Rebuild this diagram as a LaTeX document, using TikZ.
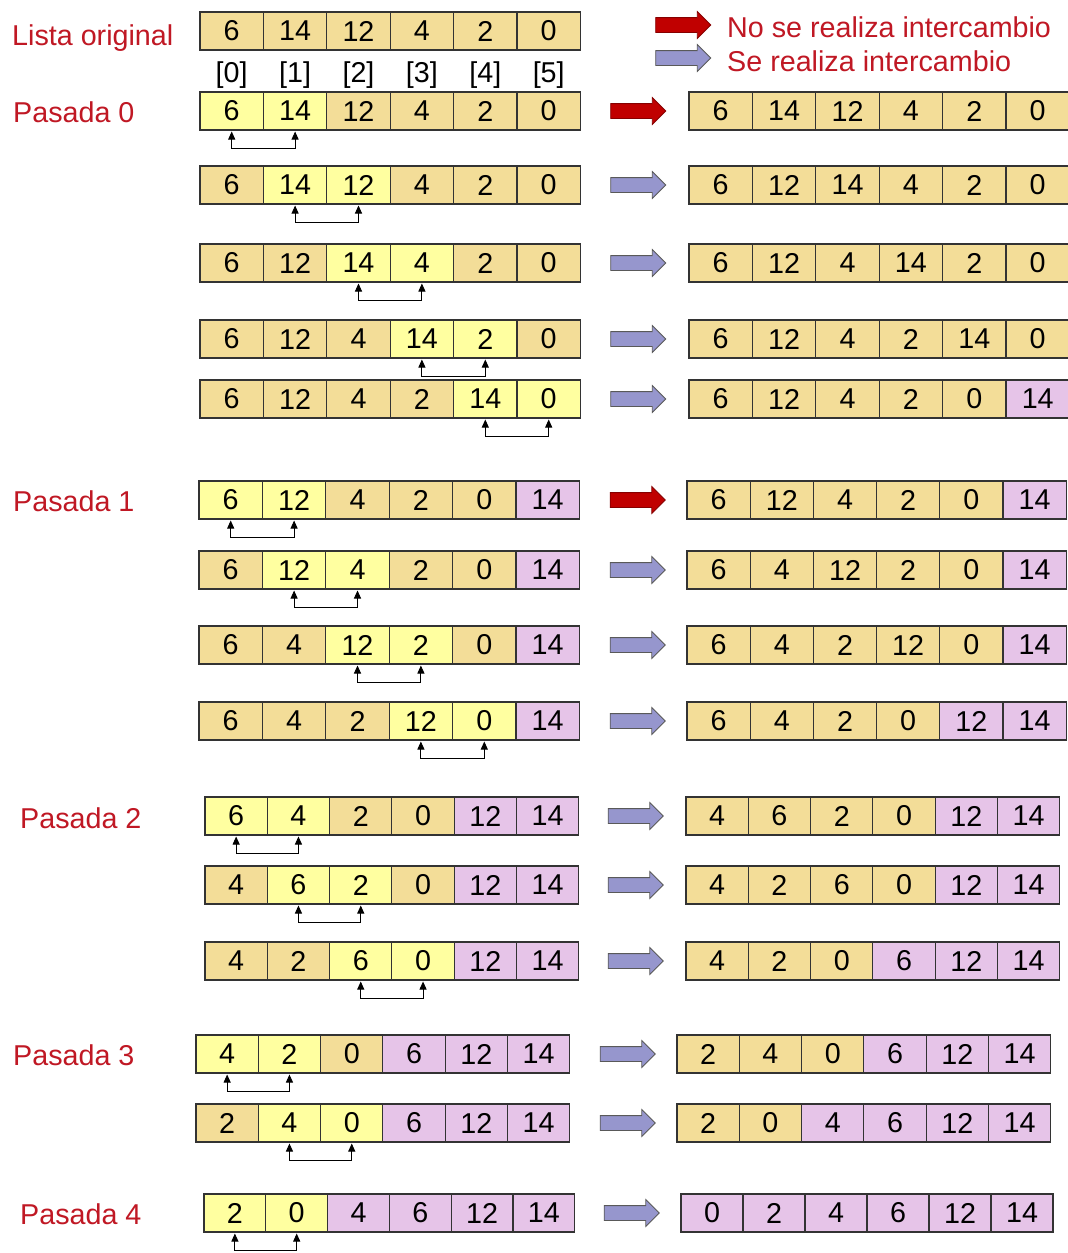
\documentclass[tikz,border=0pt]{standalone}
\usepackage{fontspec}
\setmainfont{Liberation Sans}
\usetikzlibrary{arrows.meta,shapes.arrows}
\definecolor{tn}{RGB}{243,221,152}
\definecolor{yl}{RGB}{255,255,160}
\definecolor{pk}{RGB}{230,196,232}
\definecolor{lblred}{RGB}{192,24,36}
\definecolor{arrred}{RGB}{192,0,0}
\definecolor{arrblue}{RGB}{150,150,205}
\newcommand\bigfont{\fontsize{28.7}{32}\selectfont}
\newcommand\cellrow[5]{%
  \foreach \cv/\cc [count=\ci] in {#5} {
    \node[cell, fill=\cc, minimum width=#4pt] (#1-\ci) at ({#2+(\ci-0.5)*#4}, {-#3-19}) {\cv};
  }}
\newcommand\swap[2]{\draw[swapline] ([yshift=-1.5pt]#1.south) -- ++(0,-17) -| ([yshift=-1.5pt]#2.south);}
\tikzset{
  cell/.style={draw=black!80, line width=1.1pt, minimum height=38pt, inner sep=0pt, outer sep=0pt, font=\bigfont},
  swapline/.style={line width=0.9pt, {Triangle[length=8pt,width=7pt]}-{Triangle[length=8pt,width=7pt]}},
  blockarrow/.style={single arrow, draw=black!70, line width=0.8pt, minimum height=55pt, minimum width=26pt,
    single arrow head extend=6pt, inner xsep=0pt, inner ysep=7pt, outer sep=0pt},
  noswap/.style={blockarrow, fill=arrred, draw=arrred!70!black},
  doswap/.style={blockarrow, fill=arrblue, draw=black!65},
  lbl/.style={anchor=base west, text=lblred, font=\bigfont, inner sep=0pt},
  idx/.style={font=\bigfont, inner sep=0pt}
}
\begin{document}
\begin{tikzpicture}[x=1pt,y=1pt]
\useasboundingbox (0,0) rectangle (1068,-1253);
\fill[white] (0,0) rectangle (1068,-1253);

% legend
\node[noswap] (legA) at (679.5,-25) {};
\node[doswap] (legB) at (679.5,-58) {};
\node[lbl] (legAt) at (727,-37) {No se realiza intercambio};
\node[lbl] (legBt) at (727,-71) {Se realiza intercambio};

% labels
\node[lbl] (tLista) at (12,-45) {Lista original};
\node[lbl] (tP0) at (13,-122) {Pasada 0};
\node[lbl] (tP1) at (13,-511) {Pasada 1};
\node[lbl] (tP2) at (20,-828) {Pasada 2};
\node[lbl] (tP3) at (13,-1065) {Pasada 3};
\node[lbl] (tP4) at (20,-1224) {Pasada 4};

% original list
\cellrow{lo}{200}{12}{63.4}{6/tn,14/tn,12/tn,4/tn,2/tn,0/tn}
\foreach \k [count=\ci from 1] in {0,...,5}
  \node[idx] (ix\ci) at ({200+(\ci-0.5)*63.4},-75) {[\k]};

% Pasada 0
\cellrow{l0a}{200}{92}{63.4}{6/yl,14/yl,12/tn,4/tn,2/tn,0/tn}
\cellrow{r0a}{689}{92}{63.4}{6/tn,14/tn,12/tn,4/tn,2/tn,0/tn}
\cellrow{l0b}{200}{166}{63.4}{6/tn,14/yl,12/yl,4/tn,2/tn,0/tn}
\cellrow{r0b}{689}{166}{63.4}{6/tn,12/tn,14/tn,4/tn,2/tn,0/tn}
\cellrow{l0c}{200}{244}{63.4}{6/tn,12/tn,14/yl,4/yl,2/tn,0/tn}
\cellrow{r0c}{689}{244}{63.4}{6/tn,12/tn,4/tn,14/tn,2/tn,0/tn}
\cellrow{l0d}{200}{320}{63.4}{6/tn,12/tn,4/tn,14/yl,2/yl,0/tn}
\cellrow{r0d}{689}{320}{63.4}{6/tn,12/tn,4/tn,2/tn,14/tn,0/tn}
\cellrow{l0e}{200}{380}{63.4}{6/tn,12/tn,4/tn,2/tn,14/yl,0/yl}
\cellrow{r0e}{689}{380}{63.4}{6/tn,12/tn,4/tn,2/tn,0/tn,14/pk}
\node[noswap] (a0a) at (634.5,-111) {};
\node[doswap] (a0b) at (634.5,-185) {};
\node[doswap] (a0c) at (634.5,-263) {};
\node[doswap] (a0d) at (634.5,-339) {};
\node[doswap] (a0e) at (634.5,-399) {};
\swap{l0a-1}{l0a-2}
\swap{l0b-2}{l0b-3}
\swap{l0c-3}{l0c-4}
\swap{l0d-4}{l0d-5}
\swap{l0e-5}{l0e-6}

% Pasada 1
\cellrow{l1a}{199}{481}{63.4}{6/yl,12/yl,4/tn,2/tn,0/tn,14/pk}
\cellrow{r1a}{687}{481}{63.2}{6/tn,12/tn,4/tn,2/tn,0/tn,14/pk}
\cellrow{l1b}{199}{551}{63.4}{6/tn,12/yl,4/yl,2/tn,0/tn,14/pk}
\cellrow{r1b}{687}{551}{63.2}{6/tn,4/tn,12/tn,2/tn,0/tn,14/pk}
\cellrow{l1c}{199}{626}{63.4}{6/tn,4/tn,12/yl,2/yl,0/tn,14/pk}
\cellrow{r1c}{687}{626}{63.2}{6/tn,4/tn,2/tn,12/tn,0/tn,14/pk}
\cellrow{l1d}{199}{702}{63.4}{6/tn,4/tn,2/tn,12/yl,0/yl,14/pk}
\cellrow{r1d}{687}{702}{63.2}{6/tn,4/tn,2/tn,0/tn,12/pk,14/pk}
\node[noswap] (a1a) at (634,-500) {};
\node[doswap] (a1b) at (634,-570) {};
\node[doswap] (a1c) at (634,-645) {};
\node[doswap] (a1d) at (634,-721) {};
\swap{l1a-1}{l1a-2}
\swap{l1b-2}{l1b-3}
\swap{l1c-3}{l1c-4}
\swap{l1d-4}{l1d-5}

% Pasada 2
\cellrow{l2a}{205}{797}{62.3}{6/yl,4/yl,2/tn,0/tn,12/pk,14/pk}
\cellrow{r2a}{686}{797}{62.3}{4/tn,6/tn,2/tn,0/tn,12/pk,14/pk}
\cellrow{l2b}{205}{866}{62.3}{4/tn,6/yl,2/yl,0/tn,12/pk,14/pk}
\cellrow{r2b}{686}{866}{62.3}{4/tn,2/tn,6/tn,0/tn,12/pk,14/pk}
\cellrow{l2c}{205}{942}{62.3}{4/tn,2/tn,6/yl,0/yl,12/pk,14/pk}
\cellrow{r2c}{686}{942}{62.3}{4/tn,2/tn,0/tn,6/pk,12/pk,14/pk}
\node[doswap] (a2a) at (632,-816) {};
\node[doswap] (a2b) at (632,-885) {};
\node[doswap] (a2c) at (632,-961) {};
\swap{l2a-1}{l2a-2}
\swap{l2b-2}{l2b-3}
\swap{l2c-3}{l2c-4}

% Pasada 3
\cellrow{l3a}{196}{1035}{62.3}{4/yl,2/yl,0/tn,6/pk,12/pk,14/pk}
\cellrow{r3a}{677}{1035}{62.3}{2/tn,4/tn,0/tn,6/pk,12/pk,14/pk}
\cellrow{l3b}{196}{1104}{62.3}{2/tn,4/yl,0/yl,6/pk,12/pk,14/pk}
\cellrow{r3b}{677}{1104}{62.3}{2/tn,0/tn,4/pk,6/pk,12/pk,14/pk}
\node[doswap] (a3a) at (624,-1054) {};
\node[doswap] (a3b) at (624,-1123) {};
\swap{l3a-1}{l3a-2}
\swap{l3b-2}{l3b-3}

% Pasada 4
\cellrow{l4a}{204}{1194}{61.8}{2/yl,0/yl,4/pk,6/pk,12/pk,14/pk}
\cellrow{r4a}{681}{1194}{62}{0/pk,2/pk,4/pk,6/pk,12/pk,14/pk}
\node[doswap] (a4a) at (628,-1213) {};
\swap{l4a-1}{l4a-2}
\end{tikzpicture}
\end{document}
